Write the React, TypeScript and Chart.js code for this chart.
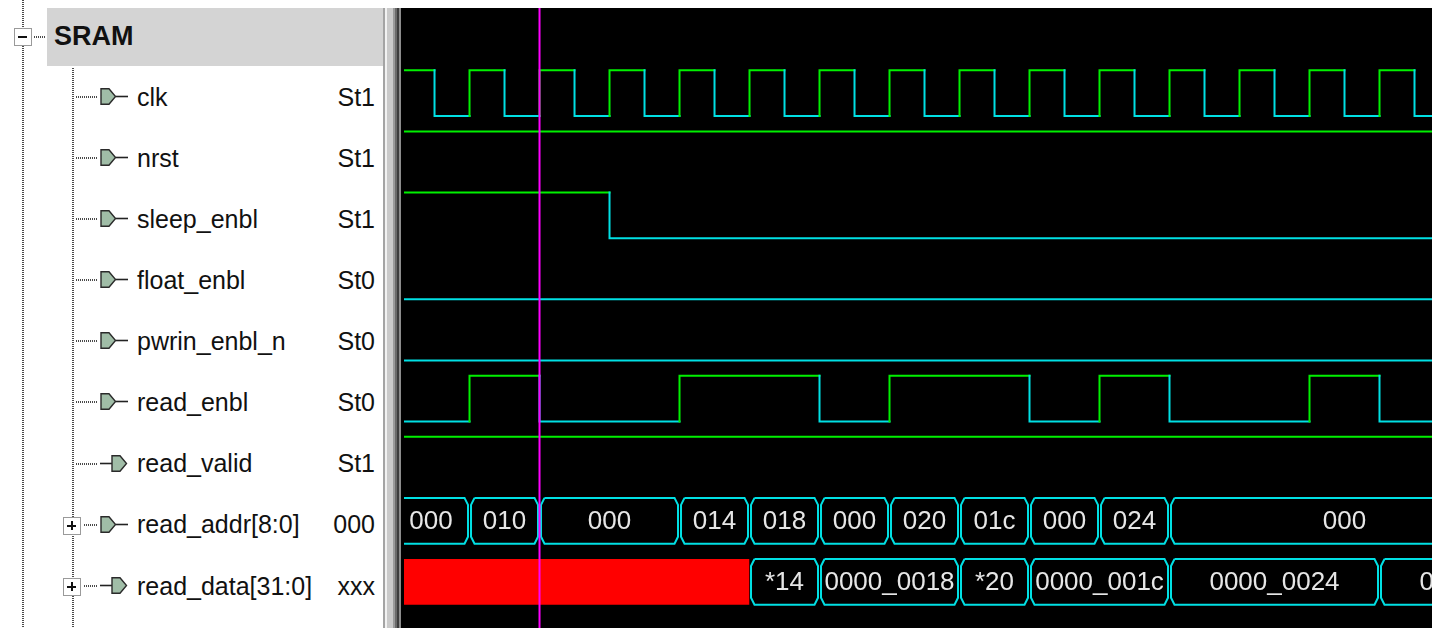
import React, { useEffect, useRef } from "react";
import { Chart, registerables } from "chart.js";

Chart.register(...registerables);

// ---------------- DATA ----------------
// time axis in ns (clock period 10 ns); visible window
const VIEW_START = 0.64;
const VIEW_END = 147.5;
const CURSOR_TIME = 20;

const signalNames = [
  "clk",
  "nrst",
  "sleep_enbl",
  "float_enbl",
  "pwrin_enbl_n",
  "read_enbl",
  "read_valid",
  "read_addr[8:0]",
  "read_data[31:0]",
];
const signalCursorValues = ["St1", "St1", "St1", "St0", "St0", "St0", "St1", "000", "xxx"];
const signalDirections = ["in", "in", "in", "in", "in", "in", "out", "in", "out"];
const signalExpandable = [false, false, false, false, false, false, false, true, true];

// 1-bit signals: initial level and toggle times
const clkInitial = 1;
const clkToggles = [5, 10, 15, 20, 25, 30, 35, 40, 45, 50, 55, 60, 65, 70, 75, 80, 85, 90, 95, 100, 105, 110, 115, 120, 125, 130, 135, 140, 145];
const nrstInitial = 1;
const nrstToggles: number[] = [];
const sleepEnblInitial = 1;
const sleepEnblToggles = [30];
const floatEnblInitial = 0;
const floatEnblToggles: number[] = [];
const pwrinEnblNInitial = 0;
const pwrinEnblNToggles: number[] = [];
const readEnblInitial = 0;
const readEnblToggles = [10, 20, 40, 60, 70, 90, 100, 110, 130, 140];
const readValidInitial = 1;
const readValidToggles: number[] = [];

// buses: segment boundaries and values
const readAddrTimes = [-1, 10, 20, 40, 50, 60, 70, 80, 90, 100, 110, 160];
const readAddrValues = ["000", "010", "000", "014", "018", "000", "020", "01c", "000", "024", "000"];
const readDataTimes = [-1, 50, 60, 80, 90, 110, 140, 170];
const readDataValues = ["X", "0000_0014", "0000_0018", "0000_0020", "0000_001c", "0000_0024", "0000_0000"];

// ---------------- STYLE / LAYOUT ----------------
const GREEN = "#00f000";
const CYAN = "#00e0e4";
const MAGENTA = "#ff00ff";
const RED = "#ff0000";
const TEXT_ON_BLACK = "#e6e6e6";
const FONT_FAMILY = '"Liberation Sans", Arial, Helvetica, sans-serif';

const CANVAS_LEFT = 401;
const CANVAS_TOP = 8;
const CANVAS_W = 1031;
const CANVAS_H = 620;
const PAD_LEFT = 3;
const Y_MAX = 10.15;
const PX_PER_NS = (CANVAS_W - PAD_LEFT) / (VIEW_END - VIEW_START);
const PX_PER_ROW = CANVAS_H / Y_MAX;
const LEVEL_SPAN = 0.75;

const rowLow = (i: number) => 8.38 - i;
const rowHigh = (i: number) => rowLow(i) + LEVEL_SPAN;

function digitalDataset(row: number, initial: number, toggles: number[]) {
  const lv = (v: number) => (v ? rowHigh(row) : rowLow(row));
  let v = initial;
  const pts: { x: number; y: number }[] = [{ x: VIEW_START, y: lv(v) }];
  for (const t of toggles) {
    pts.push({ x: t, y: lv(v) });
    v = v ? 0 : 1;
    pts.push({ x: t, y: lv(v) });
  }
  pts.push({ x: VIEW_END + 2, y: lv(v) });
  const mid = rowLow(row) + LEVEL_SPAN / 2;
  return {
    data: pts,
    borderColor: CYAN,
    borderWidth: 2,
    pointRadius: 0,
    fill: false,
    borderCapStyle: "square",
    clip: 0,
    order: 0,
    segment: {
      borderColor: (ctx: any) => (ctx.p1.parsed.y > mid ? GREEN : CYAN),
    },
  };
}

const isUnknown = (v: string) => /^[xX]+$/.test(v);

function busOutlineDataset(row: number, times: number[], values: string[]) {
  const A = 5 / PX_PER_NS;
  const B = 1.5 / PX_PER_NS;
  const C = 7 / PX_PER_ROW;
  const H = rowHigh(row);
  const L = rowLow(row);
  const pts: { x: number; y: number | null }[] = [];
  for (let k = 0; k < values.length; k++) {
    if (isUnknown(values[k])) continue;
    const t0 = times[k];
    const t1 = times[k + 1];
    pts.push(
      { x: t0 + A, y: H },
      { x: t1 - A, y: H },
      { x: t1 - B, y: H - C },
      { x: t1 - B, y: L + C },
      { x: t1 - A, y: L },
      { x: t0 + A, y: L },
      { x: t0 + B, y: L + C },
      { x: t0 + B, y: H - C },
      { x: t0 + A, y: H },
      { x: t0 + A, y: null }
    );
  }
  return {
    data: pts,
    borderColor: CYAN,
    borderWidth: 2,
    pointRadius: 0,
    fill: false,
    spanGaps: false,
    borderJoinStyle: "miter",
    clip: 0,
    order: 0,
  };
}

function busUnknownDatasets(row: number, times: number[], values: string[]) {
  const out: any[] = [];
  for (let k = 0; k < values.length; k++) {
    if (!isUnknown(values[k])) continue;
    out.push({
      data: [
        { x: times[k], y: rowHigh(row) },
        { x: times[k + 1], y: rowHigh(row) },
      ],
      borderColor: RED,
      backgroundColor: RED,
      borderWidth: 0,
      pointRadius: 0,
      fill: { value: rowLow(row) },
      clip: 0,
      order: -5,
    });
  }
  return out;
}

const buses = [
  { row: 7, times: readAddrTimes, values: readAddrValues },
  { row: 8, times: readDataTimes, values: readDataValues },
];

const busTextPlugin = {
  id: "busText",
  beforeDatasetsDraw(chart: any) {
    const { ctx, chartArea, scales } = chart;
    const xs = scales.x;
    const ys = scales.y;
    ctx.save();
    ctx.beginPath();
    ctx.rect(chartArea.left, chartArea.top, chartArea.right - chartArea.left, chartArea.bottom - chartArea.top);
    ctx.clip();
    ctx.font = `26px ${FONT_FAMILY}`;
    ctx.fillStyle = TEXT_ON_BLACK;
    ctx.textAlign = "center";
    ctx.textBaseline = "alphabetic";
    for (const bus of buses) {
      const yc = (ys.getPixelForValue(rowHigh(bus.row)) + ys.getPixelForValue(rowLow(bus.row))) / 2;
      for (let k = 0; k < bus.values.length; k++) {
        const v = bus.values[k];
        if (isUnknown(v)) continue;
        const x0 = xs.getPixelForValue(bus.times[k]);
        const x1 = xs.getPixelForValue(bus.times[k + 1]);
        let label = v;
        if (ctx.measureText(v).width > x1 - x0 - 6) {
          label = "*" + (v.replace(/^[0_]+/, "") || "0");
        }
        ctx.fillText(label, (x0 + x1) / 2, yc + 8);
      }
    }
    ctx.restore();
  },
};

function buildDatasets() {
  const ds: any[] = [
    digitalDataset(0, clkInitial, clkToggles),
    digitalDataset(1, nrstInitial, nrstToggles),
    digitalDataset(2, sleepEnblInitial, sleepEnblToggles),
    digitalDataset(3, floatEnblInitial, floatEnblToggles),
    digitalDataset(4, pwrinEnblNInitial, pwrinEnblNToggles),
    digitalDataset(5, readEnblInitial, readEnblToggles),
    digitalDataset(6, readValidInitial, readValidToggles),
  ];
  for (const b of buses) {
    ds.push(busOutlineDataset(b.row, b.times, b.values));
    ds.push(...busUnknownDatasets(b.row, b.times, b.values));
  }
  ds.push({
    data: [
      { x: CURSOR_TIME, y: 0 },
      { x: CURSOR_TIME, y: Y_MAX },
    ],
    borderColor: MAGENTA,
    borderWidth: 2,
    pointRadius: 0,
    fill: false,
    clip: 0,
    order: -10,
  });
  return ds;
}

// ---------------- LEFT PANEL ----------------
const ROW0_CENTER = 97;
const rowCenter = (i: number) => ROW0_CENTER + PX_PER_ROW * i;

function Txt(props: { x: number; baseline: number; size: number; bold?: boolean; right?: boolean; children: any }) {
  const { x, baseline, size, bold, right, children } = props;
  const lh = size;
  const top = baseline - ((lh - 1.117 * size) / 2 + 0.905 * size);
  const style: any = {
    position: "absolute",
    top,
    fontSize: size,
    lineHeight: `${lh}px`,
    whiteSpace: "nowrap",
    fontWeight: bold ? 700 : 400,
    color: "#111",
  };
  if (right) style.right = 1432 - x;
  else style.left = x;
  return <div style={style}>{children}</div>;
}

const DOT = "#4a4a4a";
function VDots(p: { x: number; y0: number; y1: number }) {
  return (
    <div
      style={{
        position: "absolute",
        left: p.x - 1,
        top: p.y0,
        width: 2,
        height: p.y1 - p.y0,
        backgroundImage: `repeating-linear-gradient(to bottom, ${DOT} 0px, ${DOT} 1px, transparent 1px, transparent 2px)`,
      }}
    />
  );
}
function HDots(p: { x0: number; x1: number; y: number }) {
  return (
    <div
      style={{
        position: "absolute",
        left: p.x0,
        top: p.y - 1,
        width: p.x1 - p.x0,
        height: 2,
        backgroundImage: `repeating-linear-gradient(to right, ${DOT} 0px, ${DOT} 1px, transparent 1px, transparent 2px)`,
      }}
    />
  );
}

function ExpandBox(p: { cx: number; cy: number; plus: boolean }) {
  const s = 18;
  return (
    <div
      style={{
        position: "absolute",
        left: p.cx - s / 2,
        top: p.cy - s / 2,
        width: s,
        height: s,
        boxSizing: "border-box",
        border: "1.5px solid #9a9a9a",
        background: "#fff",
      }}
    >
      <div style={{ position: "absolute", left: 3, top: 7, width: 9, height: 2, background: "#111" }} />
      {p.plus ? <div style={{ position: "absolute", left: 6.5, top: 3, width: 2, height: 9, background: "#111" }} /> : null}
    </div>
  );
}

function PortIcon(p: { cy: number; dir: string }) {
  const out = p.dir === "out";
  const px = out ? 12 : 1;
  const pent = `${px},0.8 ${px + 8},0.8 ${px + 14.5},8.5 ${px + 8},16.2 ${px},16.2`;
  return (
    <svg
      width={30}
      height={18}
      style={{ position: "absolute", left: 100, top: p.cy - 9 }}
      viewBox="0 0 30 18"
    >
      {out ? (
        <line x1={0} y1={8.5} x2={12} y2={8.5} stroke="#222" strokeWidth={1.6} />
      ) : (
        <line x1={15.5} y1={8.5} x2={28} y2={8.5} stroke="#222" strokeWidth={1.6} />
      )}
      <polygon points={pent} fill="#a0bda7" stroke="#2a2a2a" strokeWidth={1.4} />
    </svg>
  );
}

function LeftPanel() {
  const items: any[] = [];
  items.push(<div key="hdr" style={{ position: "absolute", left: 47, top: 8, width: 336, height: 58, background: "#d4d4d4" }} />);
  items.push(<VDots key="v0" x={23} y0={0} y1={628} />);
  items.push(<ExpandBox key="b0" cx={23} cy={37} plus={false} />);
  items.push(<HDots key="h0" x0={34} x1={46} y={37} />);
  items.push(
    <Txt key="sram" x={54} baseline={46} size={27} bold>
      SRAM
    </Txt>
  );
  items.push(<VDots key="v1" x={73} y0={68} y1={628} />);
  signalNames.forEach((name, i) => {
    const cy = rowCenter(i);
    if (signalExpandable[i]) {
      items.push(<ExpandBox key={`eb${i}`} cx={72} cy={cy + 1} plus />);
      items.push(<HDots key={`hd${i}`} x0={84} x1={97} y={cy} />);
    } else {
      items.push(<HDots key={`hd${i}`} x0={76} x1={97} y={cy} />);
    }
    items.push(<PortIcon key={`ic${i}`} cy={cy} dir={signalDirections[i]} />);
    items.push(
      <Txt key={`nm${i}`} x={137} baseline={cy + 9} size={25}>
        {name}
      </Txt>
    );
    items.push(
      <Txt key={`vl${i}`} x={375} baseline={cy + 9} size={25} right>
        {signalCursorValues[i]}
      </Txt>
    );
  });
  // splitter between panes
  items.push(
    <div
      key="split"
      style={{
        position: "absolute",
        left: 383,
        top: 8,
        width: 18,
        height: 620,
        background:
          "linear-gradient(to right, #a4a4a4 0px, #a4a4a4 2px, #f2f2f2 2px, #f2f2f2 4px, #cacaca 4px, #cacaca 10px, #9a9a9a 10px, #9a9a9a 12px, #6a6a6a 12px, #6a6a6a 14px, #3c3c3c 14px, #3c3c3c 16px, #8c8c8c 16px, #8c8c8c 18px)",
      }}
    />
  );
  return <>{items}</>;
}

export default function App() {
  const ref = useRef<HTMLCanvasElement>(null);
  useEffect(() => {
    if (!ref.current) return;
    const chart = new Chart(ref.current, {
      type: "line",
      data: { datasets: buildDatasets() },
      options: {
        animation: false,
        responsive: false,
        maintainAspectRatio: false,
        devicePixelRatio: 1,
        events: [],
        layout: { padding: { left: PAD_LEFT, right: 0, top: 0, bottom: 0 } },
        scales: {
          x: { type: "linear", min: VIEW_START, max: VIEW_END, display: false },
          y: { type: "linear", min: 0, max: Y_MAX, display: false },
        },
        plugins: { legend: { display: false }, tooltip: { enabled: false } },
        elements: { point: { radius: 0 }, line: { tension: 0 } },
      } as any,
      plugins: [busTextPlugin],
    } as any);
    return () => chart.destroy();
  }, []);
  return (
    <div
      style={{
        position: "fixed",
        left: 0,
        top: 0,
        width: 1432,
        height: 628,
        overflow: "hidden",
        background: "#fff",
        fontFamily: FONT_FAMILY,
      }}
    >
      <LeftPanel />
      <canvas
        ref={ref}
        width={CANVAS_W}
        height={CANVAS_H}
        style={{
          position: "absolute",
          left: CANVAS_LEFT,
          top: CANVAS_TOP,
          width: CANVAS_W,
          height: CANVAS_H,
          background: "#000",
          display: "block",
        }}
      />
    </div>
  );
}
